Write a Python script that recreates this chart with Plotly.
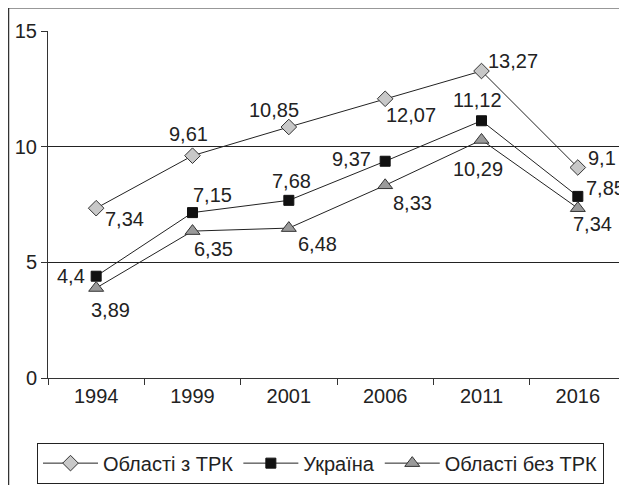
import plotly.graph_objects as go

years = ["1994", "1999", "2001", "2006", "2011", "2016"]
s_trk = [7.34, 9.61, 10.85, 12.07, 13.27, 9.1]
s_ukr = [4.4, 7.15, 7.68, 9.37, 11.12, 7.85]
s_no = [3.89, 6.35, 6.48, 8.33, 10.29, 7.34]
names = ["Області з ТРК", "Україна", "Області без ТРК"]
y_ticks = [0, 5, 10, 15]

# label placement (pixel offsets from each point: anchor, dx, dy-down)
off_trk = [("left", 8, 11), ("center", -4, -22), ("center", -15, -17),
           ("center", 26, 16), ("left", 5, -10), ("left", 9, -9)]
off_ukr = [("right", -10, 0), ("center", 20, -18), ("center", 3, -19),
           ("right", -13, -2), ("center", -4, -21), ("left", 7, -8)]
off_no = [("center", 14, 22), ("center", 21, 18), ("center", 29, 16),
          ("center", 27, 18), ("center", -4, 29), ("center", 15, 16)]

def lab(v):
    return str(v).replace(".", ",")

FONT = "Liberation Sans, Arial, sans-serif"
TXT = dict(family=FONT, size=20, color="#222")

fig = go.Figure()
fig.add_trace(go.Scatter(
    x=years, y=s_trk, name=names[0], mode="lines+markers", cliponaxis=False,
    line=dict(color="#222", width=1),
    marker=dict(symbol="diamond", size=12, color="#c8c8c8", line=dict(color="#333", width=1)),
))
fig.add_trace(go.Scatter(
    x=years, y=s_ukr, name=names[1], mode="lines+markers", cliponaxis=False,
    line=dict(color="#222", width=1),
    marker=dict(symbol="square", size=10, color="#111", line=dict(color="#111", width=1)),
))
fig.add_trace(go.Scatter(
    x=years, y=s_no, name=names[2], mode="lines+markers", cliponaxis=False,
    line=dict(color="#222", width=1),
    marker=dict(symbol="triangle-up", size=13, color="#9a9a9a", line=dict(color="#333", width=1)),
))

annotations = []
for vals, offs in ((s_trk, off_trk), (s_ukr, off_ukr), (s_no, off_no)):
    for i, (v, (anc, dx, dy)) in enumerate(zip(vals, offs)):
        # category axes place annotations by category index
        annotations.append(dict(
            x=i, y=v, xref="x", yref="y", text=lab(v), showarrow=False,
            xanchor=anc, yanchor="middle", xshift=dx, yshift=-dy,
            font=TXT, borderpad=0,
        ))

# the page places the figure 8px from the window's top-left corner
OFF = 8
W, H = 619, 477
L, R, T, B = 40, 1, 23, 105
pw, ph = W - L - R, H - T - B

def px_x(p):
    return (p - OFF - L) / pw

def px_y(p):
    return (H - B - (p - OFF)) / ph

fig.update_layout(
    width=W, height=H,
    margin=dict(l=L, r=R, t=T, b=B),
    paper_bgcolor="white", plot_bgcolor="white",
    font=TXT,
    showlegend=True,
    annotations=annotations,
    legend=dict(
        orientation="h", x=px_x(37), y=px_y(445), xanchor="left", yanchor="top",
        bordercolor="#222", borderwidth=1, font=dict(family=FONT, size=20, color="#222"),
        itemclick=False, tracegroupgap=0, itemwidth=55,
    ),
    xaxis=dict(
        type="category", categoryorder="array", categoryarray=years,
        showgrid=False, showline=True, linecolor="#333", linewidth=1,
        ticks="outside", tickson="boundaries", ticklen=6, tickcolor="#333",
        tickfont=TXT, range=[-0.5, 5.5], fixedrange=True,
    ),
    yaxis=dict(
        range=[0, 15], tickvals=y_ticks, showgrid=True, gridcolor="#222", gridwidth=1,
        showline=True, linecolor="#333", linewidth=1, zeroline=False,
        ticks="outside", ticklen=6, tickcolor="#333", tickfont=TXT, fixedrange=True,
    ),
    shapes=[
        dict(type="rect", xref="paper", yref="paper",
             x0=px_x(8.5), x1=1.3, y0=-0.6, y1=px_y(7.5),
             line=dict(color="#333", width=1.5), layer="below"),
        dict(type="line", xref="paper", yref="paper",
             x0=1, x1=1, y0=0, y1=1, line=dict(color="#999", width=1)),
    ],
)

fig.write_html("out.html")
